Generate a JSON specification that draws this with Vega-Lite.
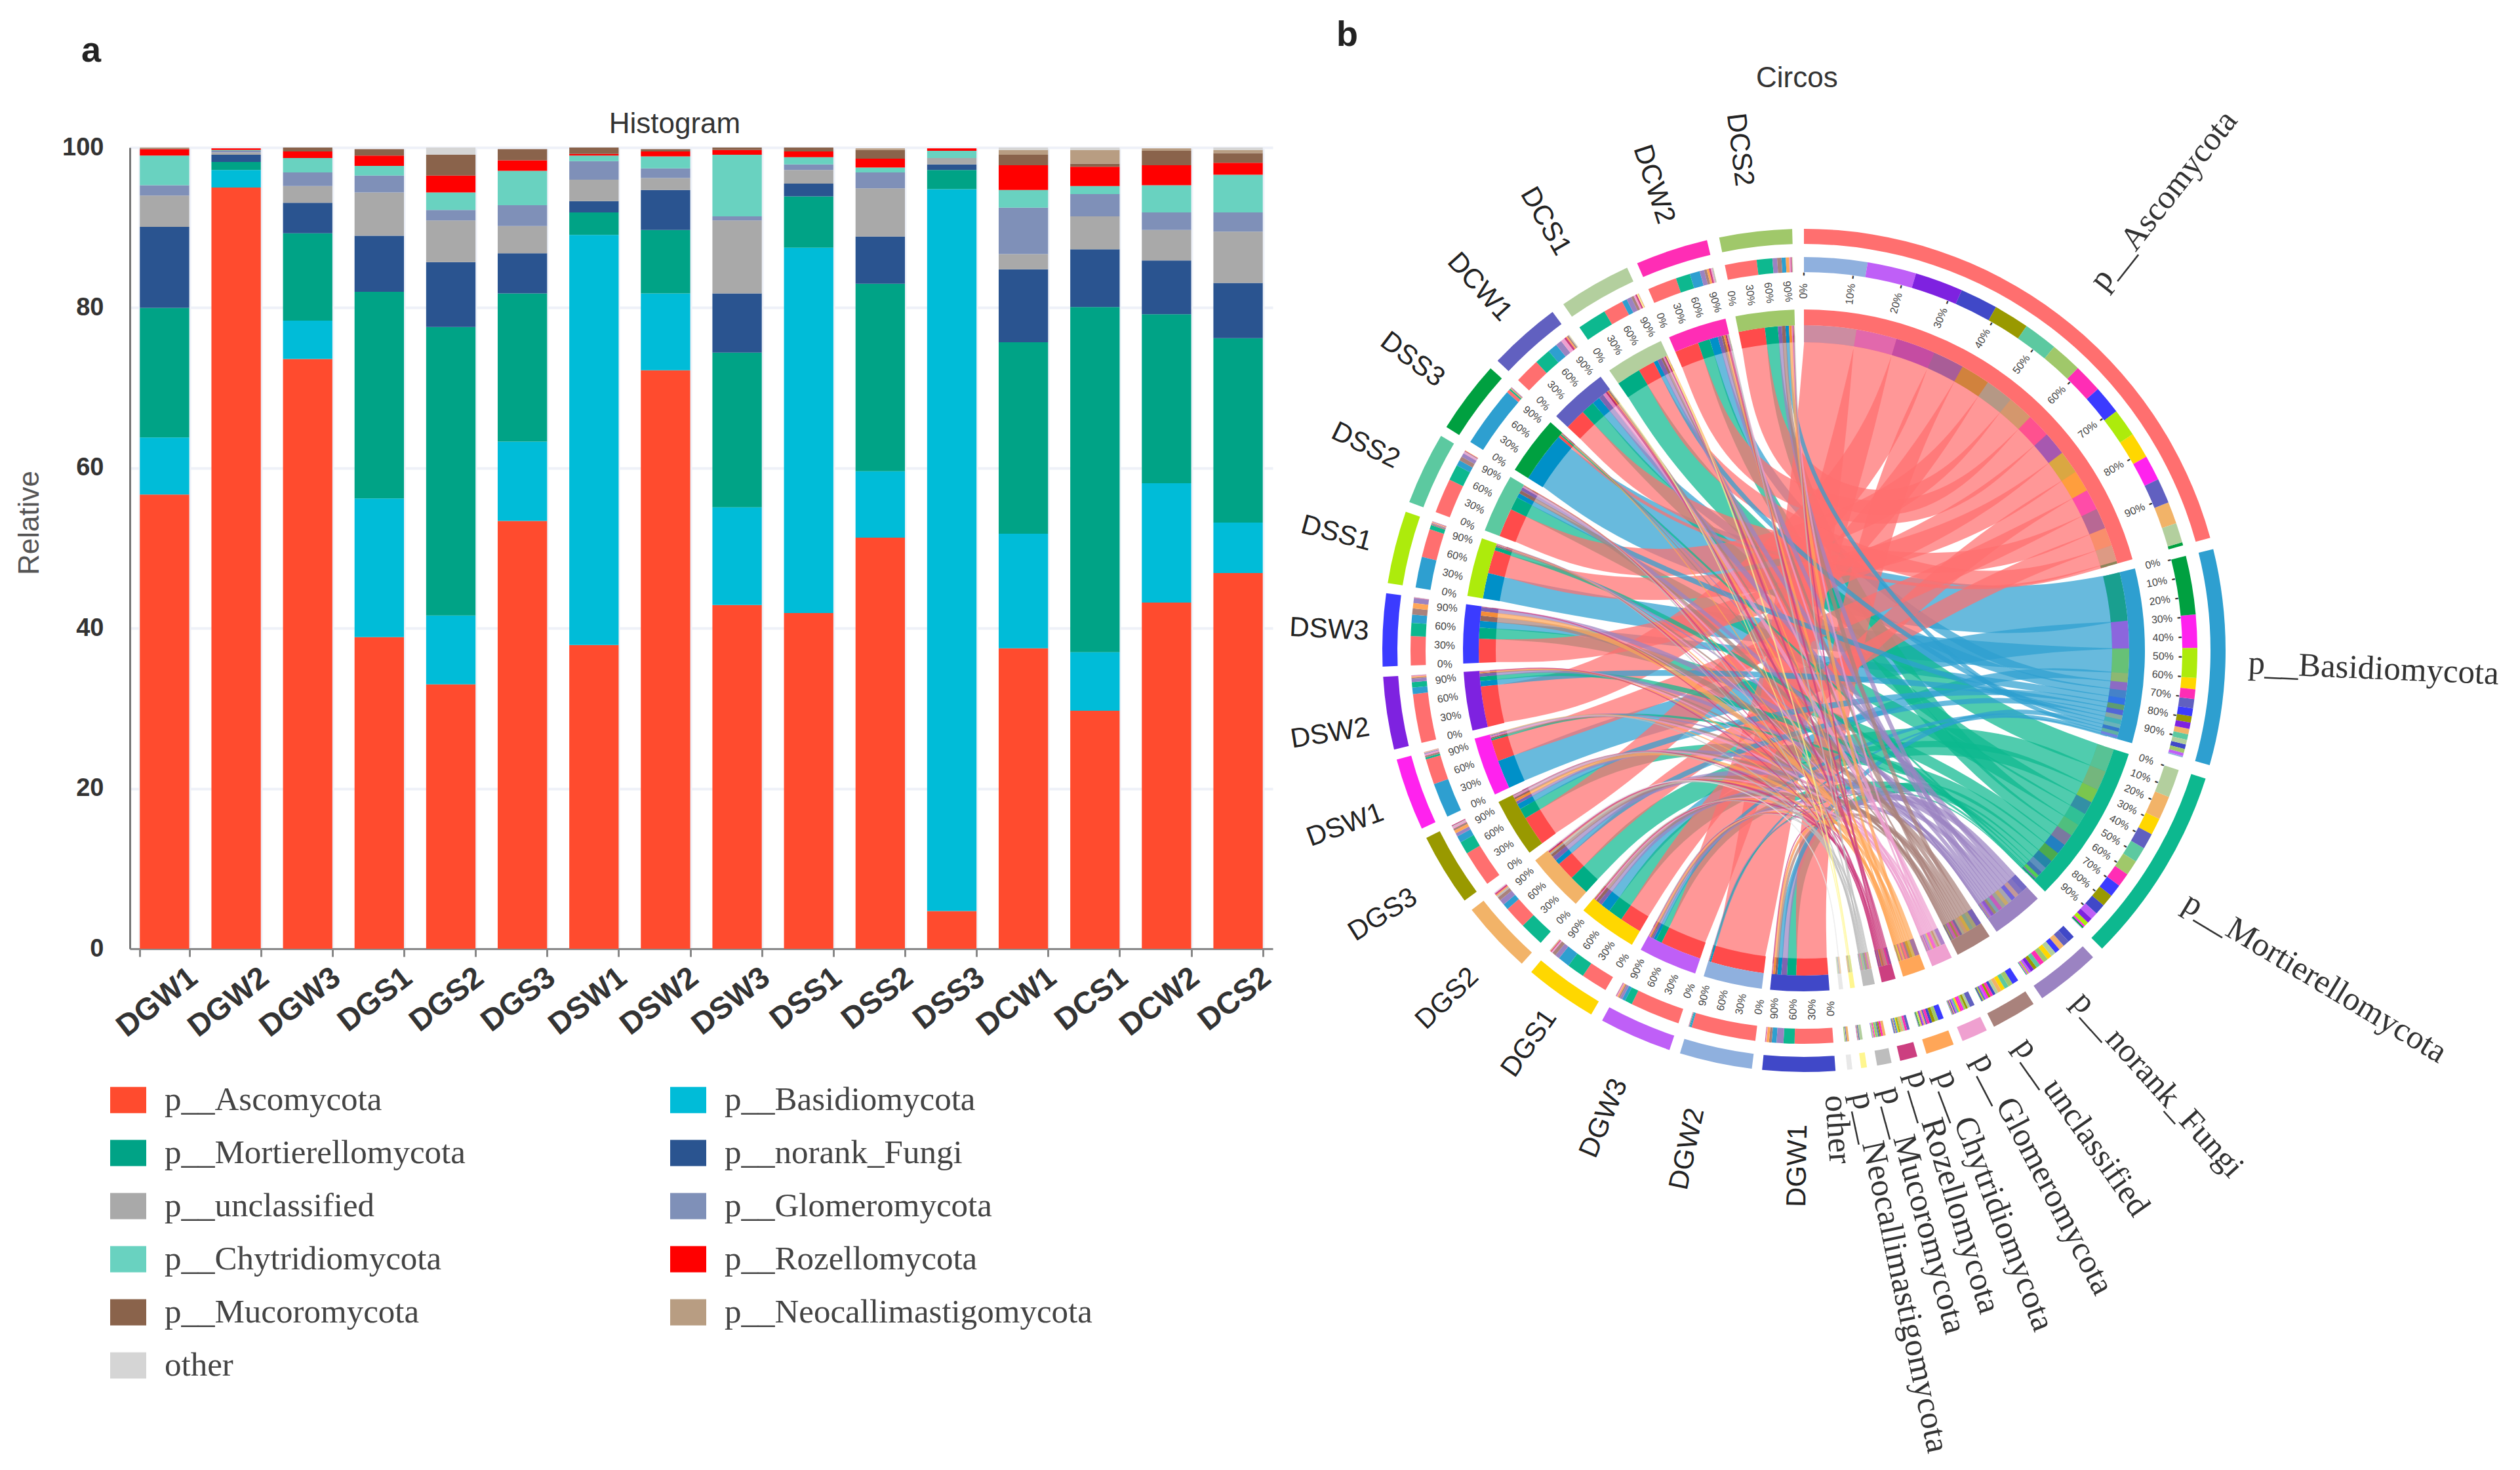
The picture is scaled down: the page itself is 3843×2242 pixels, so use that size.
{"$schema":"https://vega.github.io/schema/vega-lite/v6.json","background":"white","autosize":{"type":"none"},"padding":{"left":198,"top":225,"right":3645,"bottom":2017},"bounds":"flush","spacing":10,"config":{"view":{"stroke":null},"font":"Liberation Sans"},"resolve":{"scale":{"color":"independent"}},
"datasets":{
"links":[
{"sample":"DGW1","phylum":"p__Ascomycota","rank":1,"value":56.7,"s0":175.7,"s1":181.37,"p0":23.65,"p1":29.22,"lon":[178.54,178.54,26.44,26.44],"lat":[42,64,64,42],"step":[0,1,2,3]},
{"sample":"DGW2","phylum":"p__Ascomycota","rank":1,"value":95,"s0":187.1,"s1":196.6,"p0":0,"p1":9.33,"lon":[191.85,191.85,4.67,4.67],"lat":[42,64,64,42],"step":[0,1,2,3]},
{"sample":"DGW3","phylum":"p__Ascomycota","rank":1,"value":73.6,"s0":198.6,"s1":205.96,"p0":9.33,"p1":16.56,"lon":[202.28,202.28,12.95,12.95],"lat":[42,64,64,42],"step":[0,1,2,3]},
{"sample":"DGS1","phylum":"p__Ascomycota","rank":1,"value":38.9,"s0":210.3,"s1":214.19,"p0":56.67,"p1":60.49,"lon":[212.25,212.25,58.58,58.58],"lat":[42,64,64,42],"step":[0,1,2,3]},
{"sample":"DGS2","phylum":"p__Ascomycota","rank":1,"value":33,"s0":225.6,"s1":228.9,"p0":67.89,"p1":71.13,"lon":[227.25,227.25,69.51,69.51],"lat":[42,64,64,42],"step":[0,1,2,3]},
{"sample":"DGS3","phylum":"p__Ascomycota","rank":1,"value":53.4,"s0":233.6,"s1":238.94,"p0":29.22,"p1":34.46,"lon":[236.27,236.27,31.84,31.84],"lat":[42,64,64,42],"step":[0,1,2,3]},
{"sample":"DSW1","phylum":"p__Ascomycota","rank":1,"value":37.9,"s0":250.12,"s1":253.91,"p0":60.49,"p1":64.21,"lon":[252.02,252.02,62.35,62.35],"lat":[42,64,64,42],"step":[0,1,2,3]},
{"sample":"DSW2","phylum":"p__Ascomycota","rank":1,"value":72.2,"s0":256.4,"s1":263.62,"p0":16.56,"p1":23.65,"lon":[260.01,260.01,20.1,20.1],"lat":[42,64,64,42],"step":[0,1,2,3]},
{"sample":"DSW3","phylum":"p__Ascomycota","rank":1,"value":42.9,"s0":267.8,"s1":272.09,"p0":48.35,"p1":52.56,"lon":[269.95,269.95,50.46,50.46],"lat":[42,64,64,42],"step":[0,1,2,3]},
{"sample":"DSS1","phylum":"p__Ascomycota","rank":1,"value":41.9,"s0":283.76,"s1":287.95,"p0":52.56,"p1":56.67,"lon":[285.86,285.86,54.62,54.62],"lat":[42,64,64,42],"step":[0,1,2,3]},
{"sample":"DSS2","phylum":"p__Ascomycota","rank":1,"value":51.3,"s0":290.6,"s1":295.73,"p0":34.46,"p1":39.5,"lon":[293.17,293.17,36.98,36.98],"lat":[42,64,64,42],"step":[0,1,2,3]},
{"sample":"DSS3","phylum":"p__Ascomycota","rank":1,"value":4.7,"s0":311.01,"s1":311.48,"p0":74.05,"p1":74.51,"lon":[311.25,311.25,74.28,74.28],"lat":[42,64,64,42],"step":[0,1,2,3]},
{"sample":"DCW1","phylum":"p__Ascomycota","rank":1,"value":37.5,"s0":313.4,"s1":317.15,"p0":64.21,"p1":67.89,"lon":[315.28,315.28,66.05,66.05],"lat":[42,64,64,42],"step":[0,1,2,3]},
{"sample":"DCS1","phylum":"p__Ascomycota","rank":1,"value":29.7,"s0":329.51,"s1":332.48,"p0":71.13,"p1":74.05,"lon":[330.99,330.99,72.59,72.59],"lat":[42,64,64,42],"step":[0,1,2,3]},
{"sample":"DCW2","phylum":"p__Ascomycota","rank":1,"value":43.2,"s0":336.7,"s1":341.02,"p0":44.11,"p1":48.35,"lon":[338.86,338.86,46.23,46.23],"lat":[42,64,64,42],"step":[0,1,2,3]},
{"sample":"DCS2","phylum":"p__Ascomycota","rank":1,"value":46.9,"s0":348.4,"s1":353.09,"p0":39.5,"p1":44.11,"lon":[350.75,350.75,41.8,41.8],"lat":[42,64,64,42],"step":[0,1,2,3]},
{"sample":"DGW1","phylum":"p__Basidiomycota","rank":2,"value":7.1,"s0":184,"s1":184.71,"p0":103.84,"p1":104.52,"lon":[184.36,184.36,104.18,104.18],"lat":[42,64,64,42],"step":[0,1,2,3]},
{"sample":"DGW2","phylum":"p__Basidiomycota","rank":2,"value":2.2,"s0":196.6,"s1":196.82,"p0":105.58,"p1":105.79,"lon":[196.71,196.71,105.69,105.69],"lat":[42,64,64,42],"step":[0,1,2,3]},
{"sample":"DGW3","phylum":"p__Basidiomycota","rank":2,"value":4.8,"s0":207.05,"s1":207.53,"p0":105.12,"p1":105.58,"lon":[207.29,207.29,105.35,105.35],"lat":[42,64,64,42],"step":[0,1,2,3]},
{"sample":"DGS1","phylum":"p__Basidiomycota","rank":2,"value":17.3,"s0":216.77,"s1":218.5,"p0":94.02,"p1":95.68,"lon":[217.64,217.64,94.85,94.85],"lat":[42,64,64,42],"step":[0,1,2,3]},
{"sample":"DGS2","phylum":"p__Basidiomycota","rank":2,"value":8.6,"s0":228.9,"s1":229.76,"p0":101.52,"p1":102.34,"lon":[229.33,229.33,101.93,101.93],"lat":[42,64,64,42],"step":[0,1,2,3]},
{"sample":"DGS3","phylum":"p__Basidiomycota","rank":2,"value":9.9,"s0":240.79,"s1":241.78,"p0":99.65,"p1":100.6,"lon":[241.29,241.29,100.13,100.13],"lat":[42,64,64,42],"step":[0,1,2,3]},
{"sample":"DSW1","phylum":"p__Basidiomycota","rank":2,"value":51.2,"s0":245,"s1":250.12,"p0":84.74,"p1":89.65,"lon":[247.56,247.56,87.2,87.2],"lat":[42,64,64,42],"step":[0,1,2,3]},
{"sample":"DSW2","phylum":"p__Basidiomycota","rank":2,"value":9.6,"s0":263.62,"s1":264.58,"p0":100.6,"p1":101.52,"lon":[264.1,264.1,101.06,101.06],"lat":[42,64,64,42],"step":[0,1,2,3]},
{"sample":"DSW3","phylum":"p__Basidiomycota","rank":2,"value":12.2,"s0":274.02,"s1":275.24,"p0":98.48,"p1":99.65,"lon":[274.63,274.63,99.07,99.07],"lat":[42,64,64,42],"step":[0,1,2,3]},
{"sample":"DSS1","phylum":"p__Basidiomycota","rank":2,"value":45.6,"s0":279.2,"s1":283.76,"p0":89.65,"p1":94.02,"lon":[281.48,281.48,91.84,91.84],"lat":[42,64,64,42],"step":[0,1,2,3]},
{"sample":"DSS2","phylum":"p__Basidiomycota","rank":2,"value":8.3,"s0":298.07,"s1":298.9,"p0":102.34,"p1":103.14,"lon":[298.49,298.49,102.74,102.74],"lat":[42,64,64,42],"step":[0,1,2,3]},
{"sample":"DSS3","phylum":"p__Basidiomycota","rank":2,"value":90.1,"s0":302,"s1":311.01,"p0":76.1,"p1":84.74,"lon":[306.51,306.51,80.42,80.42],"lat":[42,64,64,42],"step":[0,1,2,3]},
{"sample":"DCW1","phylum":"p__Basidiomycota","rank":2,"value":14.3,"s0":319.54,"s1":320.97,"p0":97.11,"p1":98.48,"lon":[320.26,320.26,97.8,97.8],"lat":[42,64,64,42],"step":[0,1,2,3]},
{"sample":"DCS1","phylum":"p__Basidiomycota","rank":2,"value":7.3,"s0":332.48,"s1":333.21,"p0":103.14,"p1":103.84,"lon":[332.85,332.85,103.49,103.49],"lat":[42,64,64,42],"step":[0,1,2,3]},
{"sample":"DCW2","phylum":"p__Basidiomycota","rank":2,"value":14.9,"s0":343.13,"s1":344.62,"p0":95.68,"p1":97.11,"lon":[343.88,343.88,96.4,96.4],"lat":[42,64,64,42],"step":[0,1,2,3]},
{"sample":"DCS2","phylum":"p__Basidiomycota","rank":2,"value":6.3,"s0":356.72,"s1":357.35,"p0":104.52,"p1":105.12,"lon":[357.04,357.04,104.82,104.82],"lat":[42,64,64,42],"step":[0,1,2,3]},
{"sample":"DGW1","phylum":"p__Mortierellomycota","rank":3,"value":16.2,"s0":181.37,"s1":182.99,"p0":130.39,"p1":131.96,"lon":[182.18,182.18,131.18,131.18],"lat":[42,64,64,42],"step":[0,1,2,3]},
{"sample":"DGW2","phylum":"p__Mortierellomycota","rank":3,"value":1,"s0":196.82,"s1":196.92,"p0":134.91,"p1":135.01,"lon":[196.87,196.87,134.96,134.96],"lat":[42,64,64,42],"step":[0,1,2,3]},
{"sample":"DGW3","phylum":"p__Mortierellomycota","rank":3,"value":10.9,"s0":205.96,"s1":207.05,"p0":131.96,"p1":133.02,"lon":[206.51,206.51,132.49,132.49],"lat":[42,64,64,42],"step":[0,1,2,3]},
{"sample":"DGS1","phylum":"p__Mortierellomycota","rank":3,"value":25.8,"s0":214.19,"s1":216.77,"p0":115.37,"p1":117.87,"lon":[215.48,215.48,116.62,116.62],"lat":[42,64,64,42],"step":[0,1,2,3]},
{"sample":"DGS2","phylum":"p__Mortierellomycota","rank":3,"value":36,"s0":222,"s1":225.6,"p0":111.88,"p1":115.37,"lon":[223.8,223.8,113.63,113.63],"lat":[42,64,64,42],"step":[0,1,2,3]},
{"sample":"DGS3","phylum":"p__Mortierellomycota","rank":3,"value":18.5,"s0":238.94,"s1":240.79,"p0":128.6,"p1":130.39,"lon":[239.87,239.87,129.5,129.5],"lat":[42,64,64,42],"step":[0,1,2,3]},
{"sample":"DSW1","phylum":"p__Mortierellomycota","rank":3,"value":2.8,"s0":253.91,"s1":254.19,"p0":134.41,"p1":134.68,"lon":[254.05,254.05,134.55,134.55],"lat":[42,64,64,42],"step":[0,1,2,3]},
{"sample":"DSW2","phylum":"p__Mortierellomycota","rank":3,"value":7.9,"s0":264.58,"s1":265.37,"p0":133.02,"p1":133.79,"lon":[264.98,264.98,133.41,133.41],"lat":[42,64,64,42],"step":[0,1,2,3]},
{"sample":"DSW3","phylum":"p__Mortierellomycota","rank":3,"value":19.3,"s0":272.09,"s1":274.02,"p0":126.73,"p1":128.6,"lon":[273.06,273.06,127.67,127.67],"lat":[42,64,64,42],"step":[0,1,2,3]},
{"sample":"DSS1","phylum":"p__Mortierellomycota","rank":3,"value":6.4,"s0":287.95,"s1":288.59,"p0":133.79,"p1":134.41,"lon":[288.27,288.27,134.1,134.1],"lat":[42,64,64,42],"step":[0,1,2,3]},
{"sample":"DSS2","phylum":"p__Mortierellomycota","rank":3,"value":23.4,"s0":295.73,"s1":298.07,"p0":120.19,"p1":122.46,"lon":[296.9,296.9,121.33,121.33],"lat":[42,64,64,42],"step":[0,1,2,3]},
{"sample":"DSS3","phylum":"p__Mortierellomycota","rank":3,"value":2.4,"s0":311.48,"s1":311.72,"p0":134.68,"p1":134.91,"lon":[311.6,311.6,134.8,134.8],"lat":[42,64,64,42],"step":[0,1,2,3]},
{"sample":"DCW1","phylum":"p__Mortierellomycota","rank":3,"value":23.9,"s0":317.15,"s1":319.54,"p0":117.87,"p1":120.19,"lon":[318.35,318.35,119.03,119.03],"lat":[42,64,64,42],"step":[0,1,2,3]},
{"sample":"DCS1","phylum":"p__Mortierellomycota","rank":3,"value":43.1,"s0":325.2,"s1":329.51,"p0":107.7,"p1":111.88,"lon":[327.36,327.36,109.79,109.79],"lat":[42,64,64,42],"step":[0,1,2,3]},
{"sample":"DCW2","phylum":"p__Mortierellomycota","rank":3,"value":21.1,"s0":341.02,"s1":343.13,"p0":124.69,"p1":126.73,"lon":[342.08,342.08,125.71,125.71],"lat":[42,64,64,42],"step":[0,1,2,3]},
{"sample":"DCS2","phylum":"p__Mortierellomycota","rank":3,"value":23,"s0":353.09,"s1":355.39,"p0":122.46,"p1":124.69,"lon":[354.24,354.24,123.58,123.58],"lat":[42,64,64,42],"step":[0,1,2,3]},
{"sample":"DGW1","phylum":"p__norank_Fungi","rank":4,"value":10.1,"s0":182.99,"s1":184,"p0":136.7,"p1":137.74,"lon":[183.5,183.5,137.22,137.22],"lat":[42,64,64,42],"step":[0,1,2,3]},
{"sample":"DGW2","phylum":"p__norank_Fungi","rank":4,"value":0.9,"s0":196.92,"s1":197.01,"p0":145.43,"p1":145.52,"lon":[196.97,196.97,145.48,145.48],"lat":[42,64,64,42],"step":[0,1,2,3]},
{"sample":"DGW3","phylum":"p__norank_Fungi","rank":4,"value":3.8,"s0":207.53,"s1":207.91,"p0":144.74,"p1":145.13,"lon":[207.72,207.72,144.94,144.94],"lat":[42,64,64,42],"step":[0,1,2,3]},
{"sample":"DGS1","phylum":"p__norank_Fungi","rank":4,"value":7,"s0":218.5,"s1":219.2,"p0":141,"p1":141.72,"lon":[218.85,218.85,141.36,141.36],"lat":[42,64,64,42],"step":[0,1,2,3]},
{"sample":"DGS2","phylum":"p__norank_Fungi","rank":4,"value":8.1,"s0":229.76,"s1":230.57,"p0":138.67,"p1":139.5,"lon":[230.17,230.17,139.09,139.09],"lat":[42,64,64,42],"step":[0,1,2,3]},
{"sample":"DGS3","phylum":"p__norank_Fungi","rank":4,"value":5,"s0":241.78,"s1":242.28,"p0":143.72,"p1":144.23,"lon":[242.03,242.03,143.98,143.98],"lat":[42,64,64,42],"step":[0,1,2,3]},
{"sample":"DSW1","phylum":"p__norank_Fungi","rank":4,"value":1.4,"s0":254.69,"s1":254.83,"p0":145.29,"p1":145.43,"lon":[254.76,254.76,145.36,145.36],"lat":[42,64,64,42],"step":[0,1,2,3]},
{"sample":"DSW2","phylum":"p__norank_Fungi","rank":4,"value":5,"s0":265.37,"s1":265.87,"p0":144.23,"p1":144.74,"lon":[265.62,265.62,144.49,144.49],"lat":[42,64,64,42],"step":[0,1,2,3]},
{"sample":"DSW3","phylum":"p__norank_Fungi","rank":4,"value":7.4,"s0":276.92,"s1":277.66,"p0":139.5,"p1":140.26,"lon":[277.29,277.29,139.88,139.88],"lat":[42,64,64,42],"step":[0,1,2,3]},
{"sample":"DSS1","phylum":"p__norank_Fungi","rank":4,"value":1.6,"s0":288.76,"s1":288.92,"p0":145.13,"p1":145.29,"lon":[288.84,288.84,145.21,145.21],"lat":[42,64,64,42],"step":[0,1,2,3]},
{"sample":"DSS2","phylum":"p__norank_Fungi","rank":4,"value":5.9,"s0":299.5,"s1":300.09,"p0":143.12,"p1":143.72,"lon":[299.8,299.8,143.42,143.42],"lat":[42,64,64,42],"step":[0,1,2,3]},
{"sample":"DSS3","phylum":"p__norank_Fungi","rank":4,"value":0.7,"s0":311.89,"s1":311.96,"p0":145.52,"p1":145.6,"lon":[311.93,311.93,145.56,145.56],"lat":[42,64,64,42],"step":[0,1,2,3]},
{"sample":"DCW1","phylum":"p__norank_Fungi","rank":4,"value":9.1,"s0":320.97,"s1":321.88,"p0":137.74,"p1":138.67,"lon":[321.43,321.43,138.21,138.21],"lat":[42,64,64,42],"step":[0,1,2,3]},
{"sample":"DCS1","phylum":"p__norank_Fungi","rank":4,"value":7.2,"s0":333.21,"s1":333.93,"p0":140.26,"p1":141,"lon":[333.57,333.57,140.63,140.63],"lat":[42,64,64,42],"step":[0,1,2,3]},
{"sample":"DCW2","phylum":"p__norank_Fungi","rank":4,"value":6.7,"s0":344.62,"s1":345.29,"p0":142.43,"p1":143.12,"lon":[344.96,344.96,142.78,142.78],"lat":[42,64,64,42],"step":[0,1,2,3]},
{"sample":"DCS2","phylum":"p__norank_Fungi","rank":4,"value":6.9,"s0":355.39,"s1":356.08,"p0":141.72,"p1":142.43,"lon":[355.74,355.74,142.08,142.08],"lat":[42,64,64,42],"step":[0,1,2,3]},
{"sample":"DGW1","phylum":"p__unclassified","rank":5,"value":3.9,"s0":184.71,"s1":185.1,"p0":150.85,"p1":151.26,"lon":[184.9,184.9,151.05,151.05],"lat":[42,64,64,42],"step":[0,1,2,3]},
{"sample":"DGW2","phylum":"p__unclassified","rank":5,"value":0.3,"s0":197.01,"s1":197.04,"p0":153.16,"p1":153.2,"lon":[197.03,197.03,153.18,153.18],"lat":[42,64,64,42],"step":[0,1,2,3]},
{"sample":"DGW3","phylum":"p__unclassified","rank":5,"value":2.1,"s0":207.91,"s1":208.12,"p0":152.31,"p1":152.53,"lon":[208.01,208.01,152.42,152.42],"lat":[42,64,64,42],"step":[0,1,2,3]},
{"sample":"DGS1","phylum":"p__unclassified","rank":5,"value":5.4,"s0":219.2,"s1":219.74,"p0":149.29,"p1":149.86,"lon":[219.47,219.47,149.58,149.58],"lat":[42,64,64,42],"step":[0,1,2,3]},
{"sample":"DGS2","phylum":"p__unclassified","rank":5,"value":5.2,"s0":230.57,"s1":231.09,"p0":149.86,"p1":150.41,"lon":[230.83,230.83,150.13,150.13],"lat":[42,64,64,42],"step":[0,1,2,3]},
{"sample":"DGS3","phylum":"p__unclassified","rank":5,"value":3.4,"s0":242.71,"s1":243.05,"p0":151.66,"p1":152.02,"lon":[242.88,242.88,151.84,151.84],"lat":[42,64,64,42],"step":[0,1,2,3]},
{"sample":"DSW1","phylum":"p__unclassified","rank":5,"value":2.7,"s0":254.19,"s1":254.46,"p0":152.02,"p1":152.31,"lon":[254.33,254.33,152.17,152.17],"lat":[42,64,64,42],"step":[0,1,2,3]},
{"sample":"DSW2","phylum":"p__unclassified","rank":5,"value":1.5,"s0":265.87,"s1":266.02,"p0":152.91,"p1":153.07,"lon":[265.95,265.95,152.99,152.99],"lat":[42,64,64,42],"step":[0,1,2,3]},
{"sample":"DSW3","phylum":"p__unclassified","rank":5,"value":9.1,"s0":275.24,"s1":276.15,"p0":147,"p1":147.97,"lon":[275.7,275.7,147.49,147.49],"lat":[42,64,64,42],"step":[0,1,2,3]},
{"sample":"DSS1","phylum":"p__unclassified","rank":5,"value":1.7,"s0":288.59,"s1":288.76,"p0":152.73,"p1":152.91,"lon":[288.68,288.68,152.82,152.82],"lat":[42,64,64,42],"step":[0,1,2,3]},
{"sample":"DSS2","phylum":"p__unclassified","rank":5,"value":6,"s0":298.9,"s1":299.5,"p0":148.65,"p1":149.29,"lon":[299.2,299.2,148.97,148.97],"lat":[42,64,64,42],"step":[0,1,2,3]},
{"sample":"DSS3","phylum":"p__unclassified","rank":5,"value":0.8,"s0":311.81,"s1":311.89,"p0":153.07,"p1":153.16,"lon":[311.85,311.85,153.12,153.12],"lat":[42,64,64,42],"step":[0,1,2,3]},
{"sample":"DCW1","phylum":"p__unclassified","rank":5,"value":1.9,"s0":322.99,"s1":323.18,"p0":152.53,"p1":152.73,"lon":[323.09,323.09,152.63,152.63],"lat":[42,64,64,42],"step":[0,1,2,3]},
{"sample":"DCS1","phylum":"p__unclassified","rank":5,"value":4.1,"s0":333.93,"s1":334.34,"p0":150.41,"p1":150.85,"lon":[334.14,334.14,150.63,150.63],"lat":[42,64,64,42],"step":[0,1,2,3]},
{"sample":"DCW2","phylum":"p__unclassified","rank":5,"value":3.8,"s0":345.29,"s1":345.67,"p0":151.26,"p1":151.66,"lon":[345.48,345.48,151.46,151.46],"lat":[42,64,64,42],"step":[0,1,2,3]},
{"sample":"DCS2","phylum":"p__unclassified","rank":5,"value":6.4,"s0":356.08,"s1":356.72,"p0":147.97,"p1":148.65,"lon":[356.4,356.4,148.31,148.31],"lat":[42,64,64,42],"step":[0,1,2,3]},
{"sample":"DGW1","phylum":"p__Glomeromycota","rank":6,"value":1.3,"s0":185.47,"s1":185.6,"p0":157.26,"p1":157.42,"lon":[185.54,185.54,157.34,157.34],"lat":[42,64,64,42],"step":[0,1,2,3]},
{"sample":"DGW2","phylum":"p__Glomeromycota","rank":6,"value":0.2,"s0":197.04,"s1":197.06,"p0":157.88,"p1":157.9,"lon":[197.05,197.05,157.89,157.89],"lat":[42,64,64,42],"step":[0,1,2,3]},
{"sample":"DGW3","phylum":"p__Glomeromycota","rank":6,"value":1.7,"s0":208.3,"s1":208.47,"p0":157.05,"p1":157.26,"lon":[208.39,208.39,157.16,157.16],"lat":[42,64,64,42],"step":[0,1,2,3]},
{"sample":"DGS1","phylum":"p__Glomeromycota","rank":6,"value":2.1,"s0":219.74,"s1":219.95,"p0":156.54,"p1":156.8,"lon":[219.85,219.85,156.67,156.67],"lat":[42,64,64,42],"step":[0,1,2,3]},
{"sample":"DGS2","phylum":"p__Glomeromycota","rank":6,"value":1.3,"s0":231.78,"s1":231.91,"p0":157.42,"p1":157.58,"lon":[231.85,231.85,157.5,157.5],"lat":[42,64,64,42],"step":[0,1,2,3]},
{"sample":"DGS3","phylum":"p__Glomeromycota","rank":6,"value":2.6,"s0":243.05,"s1":243.31,"p0":155.37,"p1":155.69,"lon":[243.18,243.18,155.53,155.53],"lat":[42,64,64,42],"step":[0,1,2,3]},
{"sample":"DSW1","phylum":"p__Glomeromycota","rank":6,"value":2.3,"s0":254.46,"s1":254.69,"p0":155.99,"p1":156.27,"lon":[254.58,254.58,156.13,156.13],"lat":[42,64,64,42],"step":[0,1,2,3]},
{"sample":"DSW2","phylum":"p__Glomeromycota","rank":6,"value":1.2,"s0":266.17,"s1":266.29,"p0":157.58,"p1":157.73,"lon":[266.23,266.23,157.66,157.66],"lat":[42,64,64,42],"step":[0,1,2,3]},
{"sample":"DSW3","phylum":"p__Glomeromycota","rank":6,"value":0.5,"s0":277.72,"s1":277.77,"p0":157.82,"p1":157.88,"lon":[277.75,277.75,157.85,157.85],"lat":[42,64,64,42],"step":[0,1,2,3]},
{"sample":"DSS1","phylum":"p__Glomeromycota","rank":6,"value":0.7,"s0":289.01,"s1":289.08,"p0":157.73,"p1":157.82,"lon":[289.05,289.05,157.78,157.78],"lat":[42,64,64,42],"step":[0,1,2,3]},
{"sample":"DSS2","phylum":"p__Glomeromycota","rank":6,"value":2,"s0":300.09,"s1":300.29,"p0":156.8,"p1":157.05,"lon":[300.19,300.19,156.93,156.93],"lat":[42,64,64,42],"step":[0,1,2,3]},
{"sample":"DCW1","phylum":"p__Glomeromycota","rank":6,"value":5.8,"s0":321.88,"s1":322.46,"p0":154.3,"p1":155.02,"lon":[322.17,322.17,154.66,154.66],"lat":[42,64,64,42],"step":[0,1,2,3]},
{"sample":"DCS1","phylum":"p__Glomeromycota","rank":6,"value":2.8,"s0":334.34,"s1":334.62,"p0":155.02,"p1":155.37,"lon":[334.48,334.48,155.2,155.2],"lat":[42,64,64,42],"step":[0,1,2,3]},
{"sample":"DCW2","phylum":"p__Glomeromycota","rank":6,"value":2.2,"s0":346.26,"s1":346.48,"p0":156.27,"p1":156.54,"lon":[346.37,346.37,156.4,156.4],"lat":[42,64,64,42],"step":[0,1,2,3]},
{"sample":"DCS2","phylum":"p__Glomeromycota","rank":6,"value":2.4,"s0":357.82,"s1":358.06,"p0":155.69,"p1":155.99,"lon":[357.94,357.94,155.84,155.84],"lat":[42,64,64,42],"step":[0,1,2,3]},
{"sample":"DGW1","phylum":"p__Chytridiomycota","rank":7,"value":3.7,"s0":185.1,"s1":185.47,"p0":160.96,"p1":161.35,"lon":[185.29,185.29,161.16,161.16],"lat":[42,64,64,42],"step":[0,1,2,3]},
{"sample":"DGW2","phylum":"p__Chytridiomycota","rank":7,"value":0.1,"s0":197.06,"s1":197.07,"p0":163.09,"p1":163.1,"lon":[197.07,197.07,163.1,163.1],"lat":[42,64,64,42],"step":[0,1,2,3]},
{"sample":"DGW3","phylum":"p__Chytridiomycota","rank":7,"value":1.8,"s0":208.12,"s1":208.3,"p0":162.17,"p1":162.36,"lon":[208.21,208.21,162.27,162.27],"lat":[42,64,64,42],"step":[0,1,2,3]},
{"sample":"DGS1","phylum":"p__Chytridiomycota","rank":7,"value":1.2,"s0":220.08,"s1":220.2,"p0":162.52,"p1":162.65,"lon":[220.14,220.14,162.59,162.59],"lat":[42,64,64,42],"step":[0,1,2,3]},
{"sample":"DGS2","phylum":"p__Chytridiomycota","rank":7,"value":2.2,"s0":231.35,"s1":231.57,"p0":161.94,"p1":162.17,"lon":[231.46,231.46,162.06,162.06],"lat":[42,64,64,42],"step":[0,1,2,3]},
{"sample":"DGS3","phylum":"p__Chytridiomycota","rank":7,"value":4.3,"s0":242.28,"s1":242.71,"p0":160.51,"p1":160.96,"lon":[242.5,242.5,160.74,160.74],"lat":[42,64,64,42],"step":[0,1,2,3]},
{"sample":"DSW1","phylum":"p__Chytridiomycota","rank":7,"value":0.7,"s0":254.91,"s1":254.98,"p0":162.96,"p1":163.03,"lon":[254.95,254.95,163,163],"lat":[42,64,64,42],"step":[0,1,2,3]},
{"sample":"DSW2","phylum":"p__Chytridiomycota","rank":7,"value":1.5,"s0":266.02,"s1":266.17,"p0":162.36,"p1":162.52,"lon":[266.1,266.1,162.44,162.44],"lat":[42,64,64,42],"step":[0,1,2,3]},
{"sample":"DSW3","phylum":"p__Chytridiomycota","rank":7,"value":7.7,"s0":276.15,"s1":276.92,"p0":159.2,"p1":160.01,"lon":[276.54,276.54,159.6,159.6],"lat":[42,64,64,42],"step":[0,1,2,3]},
{"sample":"DSS1","phylum":"p__Chytridiomycota","rank":7,"value":0.9,"s0":288.92,"s1":289.01,"p0":162.76,"p1":162.86,"lon":[288.97,288.97,162.81,162.81],"lat":[42,64,64,42],"step":[0,1,2,3]},
{"sample":"DSS2","phylum":"p__Chytridiomycota","rank":7,"value":0.6,"s0":300.51,"s1":300.57,"p0":163.03,"p1":163.09,"lon":[300.54,300.54,163.06,163.06],"lat":[42,64,64,42],"step":[0,1,2,3]},
{"sample":"DSS3","phylum":"p__Chytridiomycota","rank":7,"value":0.9,"s0":311.72,"s1":311.81,"p0":162.86,"p1":162.96,"lon":[311.77,311.77,162.91,162.91],"lat":[42,64,64,42],"step":[0,1,2,3]},
{"sample":"DCW1","phylum":"p__Chytridiomycota","rank":7,"value":2.2,"s0":322.77,"s1":322.99,"p0":161.71,"p1":161.94,"lon":[322.88,322.88,161.83,161.83],"lat":[42,64,64,42],"step":[0,1,2,3]},
{"sample":"DCS1","phylum":"p__Chytridiomycota","rank":7,"value":1,"s0":335.03,"s1":335.13,"p0":162.65,"p1":162.76,"lon":[335.08,335.08,162.71,162.71],"lat":[42,64,64,42],"step":[0,1,2,3]},
{"sample":"DCW2","phylum":"p__Chytridiomycota","rank":7,"value":3.4,"s0":345.67,"s1":346.01,"p0":161.35,"p1":161.71,"lon":[345.84,345.84,161.53,161.53],"lat":[42,64,64,42],"step":[0,1,2,3]},
{"sample":"DCS2","phylum":"p__Chytridiomycota","rank":7,"value":4.7,"s0":357.35,"s1":357.82,"p0":160.01,"p1":160.51,"lon":[357.59,357.59,160.26,160.26],"lat":[42,64,64,42],"step":[0,1,2,3]},
{"sample":"DGW1","phylum":"p__Rozellomycota","rank":8,"value":0.8,"s0":185.6,"s1":185.68,"p0":166.29,"p1":166.39,"lon":[185.64,185.64,166.34,166.34],"lat":[42,64,64,42],"step":[0,1,2,3]},
{"sample":"DGW2","phylum":"p__Rozellomycota","rank":8,"value":0.2,"s0":197.07,"s1":197.09,"p0":166.77,"p1":166.8,"lon":[197.08,197.08,166.78,166.78],"lat":[42,64,64,42],"step":[0,1,2,3]},
{"sample":"DGW3","phylum":"p__Rozellomycota","rank":8,"value":0.8,"s0":208.47,"s1":208.55,"p0":166.39,"p1":166.49,"lon":[208.51,208.51,166.44,166.44],"lat":[42,64,64,42],"step":[0,1,2,3]},
{"sample":"DGS1","phylum":"p__Rozellomycota","rank":8,"value":1.3,"s0":219.95,"s1":220.08,"p0":165.99,"p1":166.15,"lon":[220.02,220.02,166.07,166.07],"lat":[42,64,64,42],"step":[0,1,2,3]},
{"sample":"DGS2","phylum":"p__Rozellomycota","rank":8,"value":2.1,"s0":231.57,"s1":231.78,"p0":165.39,"p1":165.65,"lon":[231.68,231.68,165.52,165.52],"lat":[42,64,64,42],"step":[0,1,2,3]},
{"sample":"DGS3","phylum":"p__Rozellomycota","rank":8,"value":1.3,"s0":243.45,"s1":243.58,"p0":165.83,"p1":165.99,"lon":[243.52,243.52,165.91,165.91],"lat":[42,64,64,42],"step":[0,1,2,3]},
{"sample":"DSW1","phylum":"p__Rozellomycota","rank":8,"value":0.2,"s0":254.98,"s1":255,"p0":166.75,"p1":166.77,"lon":[254.99,254.99,166.76,166.76],"lat":[42,64,64,42],"step":[0,1,2,3]},
{"sample":"DSW2","phylum":"p__Rozellomycota","rank":8,"value":0.6,"s0":266.29,"s1":266.35,"p0":166.58,"p1":166.65,"lon":[266.32,266.32,166.62,166.62],"lat":[42,64,64,42],"step":[0,1,2,3]},
{"sample":"DSW3","phylum":"p__Rozellomycota","rank":8,"value":0.6,"s0":277.66,"s1":277.72,"p0":166.65,"p1":166.72,"lon":[277.69,277.69,166.69,166.69],"lat":[42,64,64,42],"step":[0,1,2,3]},
{"sample":"DSS1","phylum":"p__Rozellomycota","rank":8,"value":0.7,"s0":289.08,"s1":289.15,"p0":166.49,"p1":166.58,"lon":[289.12,289.12,166.54,166.54],"lat":[42,64,64,42],"step":[0,1,2,3]},
{"sample":"DSS2","phylum":"p__Rozellomycota","rank":8,"value":1.1,"s0":300.4,"s1":300.51,"p0":166.15,"p1":166.29,"lon":[300.46,300.46,166.22,166.22],"lat":[42,64,64,42],"step":[0,1,2,3]},
{"sample":"DSS3","phylum":"p__Rozellomycota","rank":8,"value":0.3,"s0":311.96,"s1":312,"p0":166.72,"p1":166.75,"lon":[311.98,311.98,166.74,166.74],"lat":[42,64,64,42],"step":[0,1,2,3]},
{"sample":"DCW1","phylum":"p__Rozellomycota","rank":8,"value":3.1,"s0":322.46,"s1":322.77,"p0":164.4,"p1":164.78,"lon":[322.62,322.62,164.59,164.59],"lat":[42,64,64,42],"step":[0,1,2,3]},
{"sample":"DCS1","phylum":"p__Rozellomycota","rank":8,"value":2.4,"s0":334.62,"s1":334.86,"p0":165.09,"p1":165.39,"lon":[334.74,334.74,165.24,165.24],"lat":[42,64,64,42],"step":[0,1,2,3]},
{"sample":"DCW2","phylum":"p__Rozellomycota","rank":8,"value":2.5,"s0":346.01,"s1":346.26,"p0":164.78,"p1":165.09,"lon":[346.14,346.14,164.94,164.94],"lat":[42,64,64,42],"step":[0,1,2,3]},
{"sample":"DCS2","phylum":"p__Rozellomycota","rank":8,"value":1.5,"s0":358.06,"s1":358.21,"p0":165.65,"p1":165.83,"lon":[358.14,358.14,165.74,165.74],"lat":[42,64,64,42],"step":[0,1,2,3]},
{"sample":"DGW1","phylum":"p__Mucoromycota","rank":9,"value":0.1,"s0":185.68,"s1":185.69,"p0":169.98,"p1":170,"lon":[185.69,185.69,169.99,169.99],"lat":[42,64,64,42],"step":[0,1,2,3]},
{"sample":"DGW3","phylum":"p__Mucoromycota","rank":9,"value":0.5,"s0":208.55,"s1":208.6,"p0":169.69,"p1":169.77,"lon":[208.58,208.58,169.73,169.73],"lat":[42,64,64,42],"step":[0,1,2,3]},
{"sample":"DGS1","phylum":"p__Mucoromycota","rank":9,"value":0.8,"s0":220.2,"s1":220.28,"p0":169.45,"p1":169.57,"lon":[220.24,220.24,169.51,169.51],"lat":[42,64,64,42],"step":[0,1,2,3]},
{"sample":"DGS2","phylum":"p__Mucoromycota","rank":9,"value":2.6,"s0":231.09,"s1":231.35,"p0":168,"p1":168.4,"lon":[231.22,231.22,168.2,168.2],"lat":[42,64,64,42],"step":[0,1,2,3]},
{"sample":"DGS3","phylum":"p__Mucoromycota","rank":9,"value":1.4,"s0":243.31,"s1":243.45,"p0":168.68,"p1":168.9,"lon":[243.38,243.38,168.79,168.79],"lat":[42,64,64,42],"step":[0,1,2,3]},
{"sample":"DSW1","phylum":"p__Mucoromycota","rank":9,"value":0.8,"s0":254.83,"s1":254.91,"p0":169.57,"p1":169.69,"lon":[254.87,254.87,169.63,169.63],"lat":[42,64,64,42],"step":[0,1,2,3]},
{"sample":"DSW2","phylum":"p__Mucoromycota","rank":9,"value":0.3,"s0":266.35,"s1":266.38,"p0":169.92,"p1":169.96,"lon":[266.37,266.37,169.94,169.94],"lat":[42,64,64,42],"step":[0,1,2,3]},
{"sample":"DSW3","phylum":"p__Mucoromycota","rank":9,"value":0.3,"s0":277.77,"s1":277.8,"p0":169.96,"p1":169.98,"lon":[277.79,277.79,169.97,169.97],"lat":[42,64,64,42],"step":[0,1,2,3]},
{"sample":"DSS1","phylum":"p__Mucoromycota","rank":9,"value":0.5,"s0":289.15,"s1":289.2,"p0":169.77,"p1":169.85,"lon":[289.18,289.18,169.81,169.81],"lat":[42,64,64,42],"step":[0,1,2,3]},
{"sample":"DSS2","phylum":"p__Mucoromycota","rank":9,"value":1.1,"s0":300.29,"s1":300.4,"p0":169.28,"p1":169.45,"lon":[300.35,300.35,169.37,169.37],"lat":[42,64,64,42],"step":[0,1,2,3]},
{"sample":"DCW1","phylum":"p__Mucoromycota","rank":9,"value":1.3,"s0":323.18,"s1":323.31,"p0":168.9,"p1":169.1,"lon":[323.25,323.25,169,169],"lat":[42,64,64,42],"step":[0,1,2,3]},
{"sample":"DCS1","phylum":"p__Mucoromycota","rank":9,"value":0.4,"s0":335.13,"s1":335.17,"p0":169.85,"p1":169.92,"lon":[335.15,335.15,169.89,169.89],"lat":[42,64,64,42],"step":[0,1,2,3]},
{"sample":"DCW2","phylum":"p__Mucoromycota","rank":9,"value":1.8,"s0":346.48,"s1":346.66,"p0":168.4,"p1":168.68,"lon":[346.57,346.57,168.54,168.54],"lat":[42,64,64,42],"step":[0,1,2,3]},
{"sample":"DCS2","phylum":"p__Mucoromycota","rank":9,"value":1.2,"s0":358.21,"s1":358.33,"p0":169.1,"p1":169.28,"lon":[358.27,358.27,169.19,169.19],"lat":[42,64,64,42],"step":[0,1,2,3]},
{"sample":"DGW1","phylum":"p__Neocallimastigomycota","rank":10,"value":0.1,"s0":185.69,"s1":185.7,"p0":172.18,"p1":172.2,"lon":[185.7,185.7,172.19,172.19],"lat":[42,64,64,42],"step":[0,1,2,3]},
{"sample":"DSS2","phylum":"p__Neocallimastigomycota","rank":10,"value":0.2,"s0":300.57,"s1":300.6,"p0":172.16,"p1":172.18,"lon":[300.58,300.58,172.17,172.17],"lat":[42,64,64,42],"step":[0,1,2,3]},
{"sample":"DCW1","phylum":"p__Neocallimastigomycota","rank":10,"value":0.6,"s0":323.31,"s1":323.37,"p0":171.83,"p1":171.98,"lon":[323.34,323.34,171.91,171.91],"lat":[42,64,64,42],"step":[0,1,2,3]},
{"sample":"DCS1","phylum":"p__Neocallimastigomycota","rank":10,"value":1.7,"s0":334.86,"s1":335.03,"p0":171.4,"p1":171.83,"lon":[334.95,334.95,171.62,171.62],"lat":[42,64,64,42],"step":[0,1,2,3]},
{"sample":"DCW2","phylum":"p__Neocallimastigomycota","rank":10,"value":0.3,"s0":346.66,"s1":346.69,"p0":172.08,"p1":172.16,"lon":[346.68,346.68,172.12,172.12],"lat":[42,64,64,42],"step":[0,1,2,3]},
{"sample":"DCS2","phylum":"p__Neocallimastigomycota","rank":10,"value":0.4,"s0":358.33,"s1":358.37,"p0":171.98,"p1":172.08,"lon":[358.35,358.35,172.03,172.03],"lat":[42,64,64,42],"step":[0,1,2,3]},
{"sample":"DGS2","phylum":"other","rank":11,"value":0.9,"s0":231.91,"s1":232,"p0":173.4,"p1":173.73,"lon":[231.96,231.96,173.57,173.57],"lat":[42,64,64,42],"step":[0,1,2,3]},
{"sample":"DCW1","phylum":"other","rank":11,"value":0.3,"s0":323.37,"s1":323.4,"p0":173.73,"p1":173.84,"lon":[323.39,323.39,173.79,173.79],"lat":[42,64,64,42],"step":[0,1,2,3]},
{"sample":"DCS1","phylum":"other","rank":11,"value":0.3,"s0":335.17,"s1":335.2,"p0":173.84,"p1":173.95,"lon":[335.19,335.19,173.9,173.9],"lat":[42,64,64,42],"step":[0,1,2,3]},
{"sample":"DCS2","phylum":"other","rank":11,"value":0.3,"s0":358.37,"s1":358.4,"p0":173.95,"p1":174.06,"lon":[358.39,358.39,174,174],"lat":[42,64,64,42],"step":[0,1,2,3]}
],
"sectors":[
{"name":"p__Ascomycota","kind":"phylum","t0":0,"t1":74.5},
{"name":"p__Basidiomycota","kind":"phylum","t0":76.1,"t1":105.8},
{"name":"p__Mortierellomycota","kind":"phylum","t0":107.7,"t1":135},
{"name":"p__norank_Fungi","kind":"phylum","t0":136.7,"t1":145.6},
{"name":"p__unclassified","kind":"phylum","t0":147,"t1":153.2},
{"name":"p__Glomeromycota","kind":"phylum","t0":154.3,"t1":157.9},
{"name":"p__Chytridiomycota","kind":"phylum","t0":159.2,"t1":163.1},
{"name":"p__Rozellomycota","kind":"phylum","t0":164.4,"t1":166.8},
{"name":"p__Mucoromycota","kind":"phylum","t0":168,"t1":170},
{"name":"p__Neocallimastigomycota","kind":"phylum","t0":171.4,"t1":172.2},
{"name":"other","kind":"phylum","t0":173.4,"t1":174.1},
{"name":"DGW1","kind":"sample","t0":175.7,"t1":185.7},
{"name":"DGW2","kind":"sample","t0":187.1,"t1":197.1},
{"name":"DGW3","kind":"sample","t0":198.6,"t1":208.6},
{"name":"DGS1","kind":"sample","t0":210.3,"t1":220.3},
{"name":"DGS2","kind":"sample","t0":222,"t1":232},
{"name":"DGS3","kind":"sample","t0":233.6,"t1":243.6},
{"name":"DSW1","kind":"sample","t0":245,"t1":255},
{"name":"DSW2","kind":"sample","t0":256.4,"t1":266.4},
{"name":"DSW3","kind":"sample","t0":267.8,"t1":277.8},
{"name":"DSS1","kind":"sample","t0":279.2,"t1":289.2},
{"name":"DSS2","kind":"sample","t0":290.6,"t1":300.6},
{"name":"DSS3","kind":"sample","t0":302,"t1":312},
{"name":"DCW1","kind":"sample","t0":313.4,"t1":323.4},
{"name":"DCS1","kind":"sample","t0":325.2,"t1":335.2},
{"name":"DCW2","kind":"sample","t0":336.7,"t1":346.7},
{"name":"DCS2","kind":"sample","t0":348.4,"t1":358.4}
],
"percentTicks":[
{"label":["0%","10%","20%","30%","40%","50%","60%","70%","80%","90%"],"lon":[0,7.45,14.9,22.35,29.8,37.25,44.7,52.15,59.6,67.05],"rot":[-90,-82.5,-75,-67.6,-60.2,-52.8,-45.3,-37.9,-30.4,-23]},
{"label":["0%","10%","20%","30%","40%","50%","60%","70%","80%","90%"],"lon":[76.1,79.07,82.04,85.01,87.98,90.95,93.92,96.89,99.86,102.83],"rot":[-13.9,-10.9,-8,-5,-2,1,3.9,6.9,9.9,12.8]},
{"label":["0%","10%","20%","30%","40%","50%","60%","70%","80%","90%"],"lon":[107.7,110.43,113.16,115.89,118.62,121.35,124.08,126.81,129.54,132.27],"rot":[17.7,20.4,23.2,25.9,28.6,31.4,34.1,36.8,39.5,42.3]}
],
"samplePercents":[
{"label":["0%","30%","60%","90%"],"lon":[175.7,178.7,181.7,184.7],"rot":-89},
{"label":["0%","30%","60%","90%"],"lon":[187.1,190.1,193.1,196.1],"rot":-78},
{"label":["0%","30%","60%","90%"],"lon":[198.6,201.6,204.6,207.6],"rot":-67},
{"label":["0%","30%","60%","90%"],"lon":[210.3,213.3,216.3,219.3],"rot":-55},
{"label":["0%","30%","60%","90%"],"lon":[222,225,228,231],"rot":-43},
{"label":["0%","30%","60%","90%"],"lon":[233.6,236.6,239.6,242.6],"rot":-32},
{"label":["0%","30%","60%","90%"],"lon":[245,248,251,254],"rot":-20},
{"label":["0%","30%","60%","90%"],"lon":[256.4,259.4,262.4,265.4],"rot":-9},
{"label":["0%","30%","60%","90%"],"lon":[267.8,270.8,273.8,276.8],"rot":3},
{"label":["0%","30%","60%","90%"],"lon":[279.2,282.2,285.2,288.2],"rot":14},
{"label":["0%","30%","60%","90%"],"lon":[290.6,293.6,296.6,299.6],"rot":26},
{"label":["0%","30%","60%","90%"],"lon":[302,305,308,311],"rot":37},
{"label":["0%","30%","60%","90%"],"lon":[313.4,316.4,319.4,322.4],"rot":48},
{"label":["0%","30%","60%","90%"],"lon":[325.2,328.2,331.2,334.2],"rot":60},
{"label":["0%","30%","60%","90%"],"lon":[336.7,339.7,342.7,345.7],"rot":72},
{"label":["0%","30%","60%","90%"],"lon":[348.4,351.4,354.4,357.4],"rot":83}
],
"sampleLabels":[
{"label":"DGW1","lon":180.7,"lat":17.7,"rot":-89},
{"label":"DGW2","lon":193.3,"lat":18.2,"rot":-78},
{"label":"DGW3","lon":203.2,"lat":18.7,"rot":-67},
{"label":"DGS1","lon":215,"lat":22.6,"rot":-55},
{"label":"DGS2","lon":225.7,"lat":19.7,"rot":-44},
{"label":"DGS3","lon":237.9,"lat":19.9,"rot":-32},
{"label":"DSW1","lon":249.1,"lat":21.2,"rot":-20},
{"label":"DSW2","lon":260,"lat":22.7,"rot":-9},
{"label":"DSW3","lon":272.5,"lat":23.6,"rot":3},
{"label":"DSS1","lon":284,"lat":22,"rot":15},
{"label":"DSS2","lon":295,"lat":21.7,"rot":26},
{"label":"DSS3","lon":306.6,"lat":21.1,"rot":37},
{"label":"DCW1","lon":318.3,"lat":21.9,"rot":48},
{"label":"DCS1","lon":328.9,"lat":19.2,"rot":60},
{"label":"DCW2","lon":342.2,"lat":21.5,"rot":72},
{"label":"DCS2","lon":352.7,"lat":18.6,"rot":83}
],
"phylumLabels":[
{"label":"p__Ascomycota","lon":38.8,"lat":18.7,"rot":-52},
{"label":"p__Basidiomycota","lon":91.7,"lat":22.2,"rot":2.5},
{"label":"p__Mortierellomycota","lon":123.2,"lat":20.4,"rot":31},
{"label":"p__norank_Fungi","lon":141.6,"lat":22.7,"rot":48},
{"label":"p__unclassified","lon":150.9,"lat":21.8,"rot":55},
{"label":"p__Glomeromycota","lon":156.4,"lat":22.6,"rot":62.5},
{"label":"p__Chytridiomycota","lon":161.5,"lat":22.3,"rot":69},
{"label":"p__Rozellomycota","lon":165.1,"lat":23.6,"rot":73},
{"label":"p__Mucoromycota","lon":168.9,"lat":22.1,"rot":75},
{"label":"p__Neocallimastigomycota","lon":172.6,"lat":22,"rot":78},
{"label":"other","lon":176,"lat":22,"rot":86}
],
"panelTexts":[
{"label":"b","lon":323.4,"lat":-26.8,"size":"big"},
{"label":"Circos","lon":359.3,"lat":2.8,"size":"title"}
]
},
"hconcat":[
{"width":1743,"height":1222,
"layer":[
{"data":{"name":"links"},"mark":{"type":"bar"},
"encoding":{
"x":{"field":"sample","type":"nominal","sort":["DGW1","DGW2","DGW3","DGS1","DGS2","DGS3","DSW1","DSW2","DSW3","DSS1","DSS2","DSS3","DCW1","DCS1","DCW2","DCS2"],"scale":{"paddingInner":0.31,"paddingOuter":0.14},
"axis":{"title":null,"labelAngle":-38,"labelAlign":"right","labelBaseline":"middle","labelFontSize":47,"labelFontWeight":"bold","labelColor":"#333333","labelPadding":26,"labelOffset":44,"tickBand":"extent","tickSize":12,"tickWidth":3,"tickColor":"#888888","domainColor":"#888888","domainWidth":3,"grid":true,"gridColor":"#EEF1F8","gridWidth":4}},
"y":{"field":"value","type":"quantitative","stack":"zero","scale":{"domain":[0,100],"nice":false},
"axis":{"title":"Relative","titleFontSize":44,"titleFontWeight":"normal","titleColor":"#555555","titleX":-131,"titleY":572,"values":[0,20,40,60,80,100],"labelFontSize":38,"labelFontWeight":"bold","labelColor":"#333333","labelPadding":40,"ticks":false,"domainColor":"#777777","domainWidth":3,"grid":true,"gridColor":"#EEF1F8","gridWidth":4}},
"order":{"field":"rank","type":"quantitative"},
"color":{"field":"phylum","type":"nominal","scale":{"domain":["p__Ascomycota","p__Basidiomycota","p__Mortierellomycota","p__norank_Fungi","p__unclassified","p__Glomeromycota","p__Chytridiomycota","p__Rozellomycota","p__Mucoromycota","p__Neocallimastigomycota","other"],"range":["#FF4B2E","#00BCD8","#00A386","#2A5490","#A9A9A9","#7F90B8","#69D2C0","#FF0000","#8A634B","#B89D82","#D5D5D5"]},
"legend":{"title":null,"orient":"none","legendX":-30,"legendY":1425,"direction":"horizontal","columns":2,"columnPadding":312,"rowPadding":28,"symbolType":"M-1,-0.73L1,-0.73L1,0.73L-1,0.73Z","symbolSize":3025,"symbolStrokeWidth":0,"labelFont":"Liberation Serif","labelFontSize":51,"labelColor":"#444444","labelOffset":28,"labelLimit":1000}}
}},
{"data":{"values":[{"letter":"a"}]},"mark":{"type":"text","font":"Liberation Sans","fontWeight":"bold","fontSize":54,"color":"#222222","dx":-112},
"encoding":{"x":{"datum":"DGW1","type":"nominal"},"y":{"datum":112,"type":"quantitative"},"text":{"field":"letter"}}},
{"data":{"values":[{"heading":"Histogram"}]},"mark":{"type":"text","font":"Liberation Sans","fontSize":44,"color":"#333333","dx":14},
"encoding":{"x":{"datum":"DSW2","type":"nominal"},"y":{"datum":102.9,"type":"quantitative"},"text":{"field":"heading"}}}
]},
{"width":1600,"height":1534,
"layer":[
{"data":{"name":"links"},"transform":[{"flatten":["lon","lat","step"]},{"filter":"datum.rank >= 2 && datum.value >= 10"}],"projection":{"type":"azimuthalEquidistant","rotate":[180,-90,0],"reflectX":true,"scale":572.958,"translate":[800,767]},"mark":{"type":"line","interpolate":"basis","opacity":0.72,"strokeCap":"butt","clip":false},
"encoding":{"longitude":{"field":"lon","type":"quantitative"},"latitude":{"field":"lat","type":"quantitative"},"detail":[{"field":"sample"},{"field":"phylum"}],"order":{"field":"step","type":"quantitative"},
"color":{"field":"phylum","type":"nominal","legend":null},
"strokeWidth":{"field":"value","type":"quantitative","scale":{"domain":[0,100],"range":[1,80]},"legend":null}}},
{"data":{"name":"links"},"transform":[{"flatten":["lon","lat","step"]},{"filter":"datum.rank == 1"}],"projection":{"type":"azimuthalEquidistant","rotate":[180,-90,0],"reflectX":true,"scale":572.958,"translate":[800,767]},"mark":{"type":"line","interpolate":"basis","opacity":0.72,"strokeCap":"butt","clip":false},
"encoding":{"longitude":{"field":"lon","type":"quantitative"},"latitude":{"field":"lat","type":"quantitative"},"detail":[{"field":"sample"},{"field":"phylum"}],"order":{"field":"step","type":"quantitative"},
"color":{"field":"phylum","type":"nominal","legend":null},
"strokeWidth":{"field":"value","type":"quantitative","scale":{"domain":[0,100],"range":[1,80]},"legend":null}}},
{"data":{"name":"links"},"transform":[{"flatten":["lon","lat","step"]},{"filter":"datum.rank >= 2 && datum.value >= 0.5 && datum.value < 10"}],"projection":{"type":"azimuthalEquidistant","rotate":[180,-90,0],"reflectX":true,"scale":572.958,"translate":[800,767]},"mark":{"type":"line","interpolate":"basis","opacity":0.72,"strokeCap":"butt","clip":false},
"encoding":{"longitude":{"field":"lon","type":"quantitative"},"latitude":{"field":"lat","type":"quantitative"},"detail":[{"field":"sample"},{"field":"phylum"}],"order":{"field":"step","type":"quantitative"},
"color":{"field":"phylum","type":"nominal","legend":null},
"strokeWidth":{"field":"value","type":"quantitative","scale":{"domain":[0,100],"range":[1,80]},"legend":null}}},
{"data":{"name":"sectors"},"transform":[{"filter":{"field":"kind","equal":"phylum"}}],"mark":{"type":"arc","radius":470,"radius2":496},
"encoding":{"theta":{"field":"t0","type":"quantitative","scale":{"domain":[0,360],"range":[0,6.283185]}},"theta2":{"field":"t1"},"color":{"field":"name","type":"nominal","legend":null}}},
{"data":{"name":"links"},"mark":{"type":"arc","radius":470,"radius2":496},
"encoding":{"theta":{"field":"s0","type":"quantitative","scale":{"domain":[0,360],"range":[0,6.283185]}},"theta2":{"field":"s1"},
"fill":{"field":"phylum","type":"nominal","legend":null,"scale":{"domain":["p__Ascomycota","p__Basidiomycota","p__Mortierellomycota","p__norank_Fungi","p__unclassified","p__Glomeromycota","p__Chytridiomycota","p__Rozellomycota","p__Mucoromycota","p__Neocallimastigomycota","other"],"range":["#FF4B4B","#0090C8","#00AD85","#7F63B0","#94665F","#E282BF","#F58C38","#B82C6C","#A8A8A8","#F2E56E","#D8D8D8"]}}}},
{"data":{"name":"links"},"mark":{"type":"arc","radius":470,"radius2":496,"opacity":0.45},
"encoding":{"theta":{"field":"p0","type":"quantitative","scale":{"domain":[0,360],"range":[0,6.283185]}},"theta2":{"field":"p1"},"color":{"field":"sample","type":"nominal","legend":null}}},
{"data":{"name":"sectors"},"mark":{"type":"arc","radius":496,"radius2":520},
"encoding":{"theta":{"field":"t0","type":"quantitative","scale":{"domain":[0,360],"range":[0,6.283185]}},"theta2":{"field":"t1"},"color":{"field":"name","type":"nominal","legend":null}}},
{"data":{"name":"links"},"mark":{"type":"arc","radius":577,"radius2":600},
"encoding":{"theta":{"field":"s0","type":"quantitative","scale":{"domain":[0,360],"range":[0,6.283185]}},"theta2":{"field":"s1"},"color":{"field":"phylum","type":"nominal","legend":null}}},
{"data":{"name":"links"},"mark":{"type":"arc","radius":577,"radius2":600},
"encoding":{"theta":{"field":"p0","type":"quantitative","scale":{"domain":[0,360],"range":[0,6.283185]}},"theta2":{"field":"p1"},"color":{"field":"sample","type":"nominal","legend":null}}},
{"data":{"name":"sectors"},"mark":{"type":"arc","radius":620,"radius2":643},
"encoding":{"theta":{"field":"t0","type":"quantitative","scale":{"domain":[0,360],"range":[0,6.283185]}},"theta2":{"field":"t1"},
"color":{"field":"name","type":"nominal","legend":null,"scale":{"domain":["p__Ascomycota","p__Basidiomycota","p__Mortierellomycota","p__norank_Fungi","p__unclassified","p__Glomeromycota","p__Chytridiomycota","p__Rozellomycota","p__Mucoromycota","p__Neocallimastigomycota","other","DGW1","DGW2","DGW3","DGS1","DGS2","DGS3","DSW1","DSW2","DSW3","DSS1","DSS2","DSS3","DCW1","DCS1","DCW2","DCS2"],"range":["#FF6F6F","#2E9FD0","#0DB88F","#9B83C2","#A9827C","#EFA0D0","#FFA658","#CC3F80","#BDBDBD","#FFF68F","#E8E8E8","#4048C8","#8FB0DE","#BF5FF7","#FFD700","#F2B368","#999900","#FF22EE","#7E22E0","#3B3BFF","#ADEB0C","#5CC9A0","#00A040","#6160C0","#B3CF9E","#FF2DB5","#A0C86A"]}}}},
{"data":{"name":"percentTicks"},"transform":[{"flatten":["label","lon","rot"]}],"projection":{"type":"azimuthalEquidistant","rotate":[180,-90,0],"reflectX":true,"scale":572.958,"translate":[800,767]},"mark":{"type":"text","font":"Liberation Sans","fontSize":16,"color":"#444444","align":"center","baseline":"middle","clip":false},
"encoding":{"longitude":{"field":"lon","type":"quantitative"},"latitude":{"datum":35.2},"text":{"field":"label"},"angle":{"field":"rot","type":"quantitative","scale":null}}},
{"data":{"name":"percentTicks"},"transform":[{"flatten":["label","lon","rot"]}],"projection":{"type":"azimuthalEquidistant","rotate":[180,-90,0],"reflectX":true,"scale":572.958,"translate":[800,767]},"mark":{"type":"text","font":"Liberation Sans","fontSize":18,"fontWeight":"bold","color":"#333333","align":"center","baseline":"middle","text":"-","clip":false},
"encoding":{"longitude":{"field":"lon","type":"quantitative"},"latitude":{"datum":32.6},"angle":{"field":"rot","type":"quantitative","scale":null}}},
{"data":{"name":"samplePercents"},"transform":[{"flatten":["label","lon"]}],"projection":{"type":"azimuthalEquidistant","rotate":[180,-90,0],"reflectX":true,"scale":572.958,"translate":[800,767]},"mark":{"type":"text","font":"Liberation Sans","fontSize":16,"color":"#444444","align":"center","baseline":"middle","clip":false},
"encoding":{"longitude":{"field":"lon","type":"quantitative"},"latitude":{"datum":35.2},"text":{"field":"label"},"angle":{"field":"rot","type":"quantitative","scale":null}}},
{"data":{"name":"sampleLabels"},"projection":{"type":"azimuthalEquidistant","rotate":[180,-90,0],"reflectX":true,"scale":572.958,"translate":[800,767]},"mark":{"type":"text","font":"Liberation Sans","fontSize":42,"color":"#222222","align":"right","baseline":"middle","clip":false},
"encoding":{"longitude":{"field":"lon","type":"quantitative"},"latitude":{"field":"lat","type":"quantitative"},"text":{"field":"label"},"angle":{"field":"rot","type":"quantitative","scale":null}}},
{"data":{"name":"phylumLabels"},"projection":{"type":"azimuthalEquidistant","rotate":[180,-90,0],"reflectX":true,"scale":572.958,"translate":[800,767]},"mark":{"type":"text","font":"Liberation Serif","fontSize":51,"color":"#333333","align":"left","baseline":"middle","clip":false},
"encoding":{"longitude":{"field":"lon","type":"quantitative"},"latitude":{"field":"lat","type":"quantitative"},"text":{"field":"label"},"angle":{"field":"rot","type":"quantitative","scale":null}}},
{"data":{"name":"panelTexts"},"transform":[{"filter":{"field":"size","equal":"big"}}],"projection":{"type":"azimuthalEquidistant","rotate":[180,-90,0],"reflectX":true,"scale":572.958,"translate":[800,767]},"mark":{"type":"text","font":"Liberation Sans","fontWeight":"bold","fontSize":54,"color":"#222222","clip":false},
"encoding":{"longitude":{"field":"lon","type":"quantitative"},"latitude":{"field":"lat","type":"quantitative"},"text":{"field":"label"}}},
{"data":{"name":"panelTexts"},"transform":[{"filter":{"field":"size","equal":"title"}}],"projection":{"type":"azimuthalEquidistant","rotate":[180,-90,0],"reflectX":true,"scale":572.958,"translate":[800,767]},"mark":{"type":"text","font":"Liberation Sans","fontSize":44,"color":"#333333","clip":false},
"encoding":{"longitude":{"field":"lon","type":"quantitative"},"latitude":{"field":"lat","type":"quantitative"},"text":{"field":"label"}}}
]}
]}
